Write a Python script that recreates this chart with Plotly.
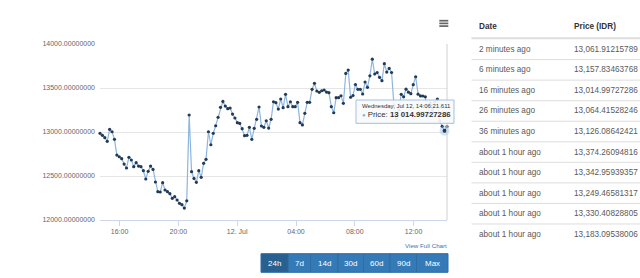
import pandas as pd
import plotly.graph_objects as go

# ---------------- data ----------------
prices = [
    12985, 12962, 12935, 12894, 13030, 13003, 12917, 12738, 12719, 12697,
    12636, 12591, 12712, 12682, 12606, 12651, 12613, 12606, 12560, 12466,
    12553, 12613, 12575, 12432, 12322, 12318, 12424, 12341, 12322, 12299,
    12246, 12265, 12227, 12190, 12174, 12135, 12218, 13193, 12549, 12473,
    12428, 12560, 12485, 12644, 12689, 13003, 12855, 12985, 13071, 13167,
    13280, 13348, 13295, 13265, 13273, 13204, 13159, 13106, 13098, 13038,
    12958, 12962, 13053, 12917, 13042, 13144, 13284, 13068, 13053, 13128,
    13045, 13144, 13344, 13333, 13261, 13375, 13276, 13428, 13288, 13344,
    13288, 13288, 13337, 13106, 13080, 13212, 13337, 13337, 13485, 13553,
    13466, 13451, 13469, 13477, 13454, 13447, 13288, 13219, 13390, 13390,
    13412, 13326, 13666, 13704, 13395, 13415, 13540, 13485, 13485, 13432,
    13568, 13508, 13638, 13827, 13659, 13676, 13621, 13583, 13776, 13681,
    13723, 13676, 13300, 13150, 13250, 13428, 13400, 13487, 13452, 13435,
    13538, 13628, 13430, 13410, 13409, 13400,
    13183.09538006, 13330.40828805, 13249.46581317, 13342.95939357,
    13374.26094816, 13126.08642421, 13064.41528246, 13014.99727286,
    13061.91215789,
]
times = pd.date_range(end="2017-07-12 14:16:11.611", periods=len(prices), freq="590s")
hover_index = len(prices) - 2
hover_header = "Wednesday, Jul 12, 14:06:21.611"

y_ticks = [12000, 12500, 13000, 13500, 14000]
x_tick_times = ["2017-07-11 16:00", "2017-07-11 20:00", "2017-07-12 00:00",
                "2017-07-12 04:00", "2017-07-12 08:00", "2017-07-12 12:00"]
x_tick_labels = ["16:00", "20:00", "12. Jul", "04:00", "08:00", "12:00"]

table_header = ["Date", "Price (IDR)"]
table_dates = ["2 minutes ago", "6 minutes ago", "16 minutes ago", "26 minutes ago",
               "36 minutes ago", "about 1 hour ago", "about 1 hour ago",
               "about 1 hour ago", "about 1 hour ago", "about 1 hour ago"]
table_prices = ["13,061.91215789", "13,157.83463768", "13,014.99727286",
                "13,064.41528246", "13,126.08642421", "13,374.26094816",
                "13,342.95939357", "13,249.46581317", "13,330.40828805",
                "13,183.09538006"]
range_buttons = ["24h", "7d", "14d", "30d", "60d", "90d", "Max"]

# ---------------- layout helpers (pixel -> paper) ----------------
L, R, T, B = 100, 447, 44, 220
W, H = R - L, B - T
def X(px):
    return (px - L) / W
def Y(py):
    return (B - py) / H

FONT = "Liberation Sans, Arial, sans-serif"

fig = go.Figure()
fig.add_trace(go.Scatter(
    x=times, y=prices, mode="lines+markers",
    line=dict(color="#8db6de", width=1.2),
    marker=dict(color="#233a55", size=3.2),
    cliponaxis=False, hoverinfo="skip", showlegend=False,
))
fig.add_trace(go.Scatter(
    x=[times[hover_index]], y=[prices[hover_index]], mode="markers",
    marker=dict(color="rgba(124,181,236,0.35)", size=10),
    cliponaxis=False, hoverinfo="skip", showlegend=False,
))
fig.add_trace(go.Scatter(
    x=[times[hover_index]], y=[prices[hover_index]], mode="markers",
    marker=dict(color="#233a55", size=4),
    cliponaxis=False, hoverinfo="skip", showlegend=False,
))

shapes = []
annotations = []

# right border of the plot
shapes.append(dict(type="line", xref="paper", yref="paper", x0=1, x1=1, y0=0, y1=1,
                   line=dict(color="#d0d0d0", width=1)))
# hamburger menu
for py in (20.7, 23.4, 26.1):
    shapes.append(dict(type="line", xref="paper", yref="paper",
                       x0=X(439.3), x1=X(448.3), y0=Y(py), y1=Y(py),
                       line=dict(color="#666666", width=1.7)))

# tooltip
shapes.append(dict(type="rect", xref="paper", yref="paper",
                   x0=X(356), x1=X(454), y0=Y(123.3), y1=Y(100),
                   fillcolor="rgba(250,250,250,0.92)",
                   line=dict(color="#9dc1e4", width=1)))
hv = f"{prices[hover_index]:,.8f}".replace(",", " ")
annotations.append(dict(xref="paper", yref="paper", x=X(359.5), y=Y(106.3),
                        xanchor="left", yanchor="middle", showarrow=False,
                        text=hover_header, font=dict(family=FONT, size=6, color="#333")))
annotations.append(dict(xref="paper", yref="paper", x=X(360), y=Y(114),
                        xanchor="left", yanchor="middle", showarrow=False,
                        text=f'<span style="color:#7cb5ec;font-size:6px">●</span> Price: <b>{hv}</b>',
                        font=dict(family=FONT, size=7.8, color="#333")))

# View Full Chart link
annotations.append(dict(xref="paper", yref="paper", x=X(449), y=Y(245.3),
                        xanchor="right", yanchor="middle", showarrow=False,
                        text="View Full Chart", font=dict(family=FONT, size=6.2, color="#337ab7")))

# range buttons
edges = [261, 288.3, 310.5, 338, 363.5, 390, 416.5, 448]
for i, lab in enumerate(range_buttons):
    x0, x1 = edges[i], edges[i + 1]
    shapes.append(dict(type="rect", xref="paper", yref="paper",
                       x0=X(x0), x1=X(x1), y0=Y(272.3), y1=Y(253.7),
                       fillcolor="#286090" if i == 0 else "#337ab7",
                       line=dict(color="#2e6da4", width=1)))
    annotations.append(dict(xref="paper", yref="paper", x=X((x0 + x1) / 2), y=Y(263),
                            xanchor="center", yanchor="middle", showarrow=False,
                            text=lab, font=dict(family=FONT, size=8, color="white")))

# table
col_x = [476.7, 571.7]
for cx, txt in zip(col_x, table_header):
    annotations.append(dict(xref="paper", yref="paper", x=X(cx), y=Y(26.7),
                            xanchor="left", yanchor="middle", showarrow=False,
                            text=f"<b>{txt}</b>", font=dict(family=FONT, size=8.2, color="#333")))
shapes.append(dict(type="line", xref="paper", yref="paper", x0=X(471.5), x1=X(640),
                   y0=Y(38.3), y1=Y(38.3), line=dict(color="#dddddd", width=2)))
row0, step = 49.3, 20.55
for i, (d, p) in enumerate(zip(table_dates, table_prices)):
    yc = row0 + i * step
    annotations.append(dict(xref="paper", yref="paper", x=X(col_x[0]), y=Y(yc),
                            xanchor="left", yanchor="middle", showarrow=False,
                            text=d, font=dict(family=FONT, size=8.2, color="#5a5a5a")))
    annotations.append(dict(xref="paper", yref="paper", x=X(col_x[1]), y=Y(yc),
                            xanchor="left", yanchor="middle", showarrow=False,
                            text=p, font=dict(family=FONT, size=8.2, color="#5a5a5a")))
    if i > 0:
        ly = yc - step / 2
        shapes.append(dict(type="line", xref="paper", yref="paper", x0=X(471.5), x1=X(640),
                           y0=Y(ly), y1=Y(ly), line=dict(color="#dddddd", width=1)))

fig.update_layout(
    width=640, height=278,
    margin=dict(l=L, r=640 - R, t=T, b=278 - B, pad=0),
    paper_bgcolor="white", plot_bgcolor="white",
    font=dict(family=FONT, size=7, color="#666"),
    showlegend=False,
    shapes=shapes, annotations=annotations,
    xaxis=dict(
        type="date", range=[times[0], times[-1]],
        tickvals=x_tick_times, ticktext=x_tick_labels,
        showgrid=False, zeroline=False,
        showline=True, linecolor="#ccd6eb", linewidth=1,
        ticks="outside", ticklen=5, tickcolor="#ccd6eb",
        tickfont=dict(family=FONT, size=7, color="#666"),
        fixedrange=True,
    ),
    yaxis=dict(
        range=[12000, 14000], tickvals=y_ticks, tickformat=".8f",
        showgrid=True, gridcolor="#e6e6e6", gridwidth=1, zeroline=False,
        showline=False, ticks="", ticklabelstandoff=4,
        tickfont=dict(family=FONT, size=7, color="#666"),
        fixedrange=True,
    ),
)

fig.write_html("out.html", config={"displayModeBar": False})
